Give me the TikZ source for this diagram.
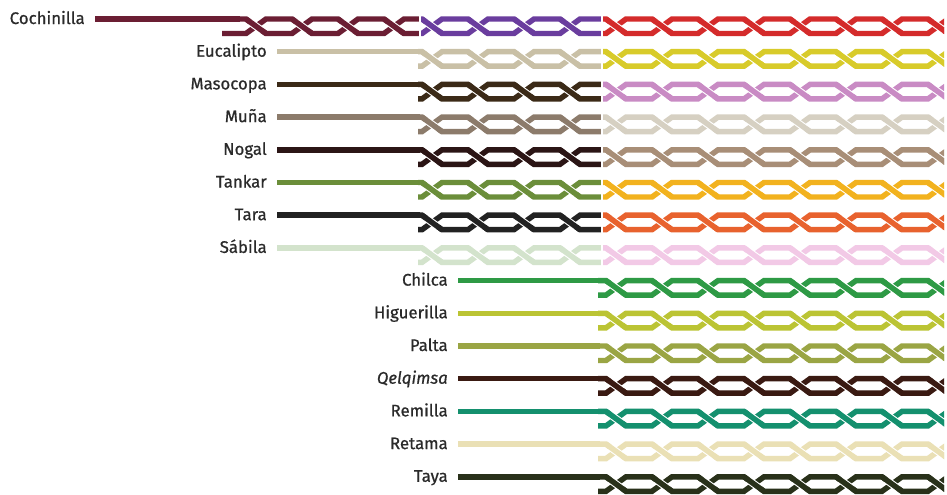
\documentclass[tikz,border=0pt]{standalone}
\usepackage{fontspec}
\setmainfont{Fira Sans}
\newfontfamily\labfont{Fira Sans}[FakeBold=0.7]
\definecolor{textgray}{HTML}{2A2A2A}
\definecolor{cMaroon}{HTML}{6B1E33}
\definecolor{cPurple}{HTML}{6A3D9E}
\definecolor{cRed}{HTML}{D42B2B}
\definecolor{cEuc}{HTML}{C9C0A6}
\definecolor{cYel}{HTML}{D8CB2A}
\definecolor{cMaso}{HTML}{3B2A17}
\definecolor{cPink}{HTML}{C98BC4}
\definecolor{cMuna}{HTML}{8C7B6B}
\definecolor{cLight}{HTML}{D6D0C2}
\definecolor{cNogal}{HTML}{2B1515}
\definecolor{cTan}{HTML}{A88E77}
\definecolor{cTankar}{HTML}{6B8E3A}
\definecolor{cAmber}{HTML}{F2B21E}
\definecolor{cTara}{HTML}{222222}
\definecolor{cOrange}{HTML}{E8622E}
\definecolor{cSabila}{HTML}{D3E3CC}
\definecolor{cLPink}{HTML}{F2C9E6}
\definecolor{cChilca}{HTML}{2E9A45}
\definecolor{cHigu}{HTML}{BBC434}
\definecolor{cPalta}{HTML}{9AA544}
\definecolor{cQelq}{HTML}{3A1A12}
\definecolor{cRemilla}{HTML}{14906E}
\definecolor{cRetama}{HTML}{EAE0B5}
\definecolor{cTaya}{HTML}{29311A}
\tikzset{x=0.75pt,y=-0.75pt,
  strand/.style={line width=4.1pt,line cap=butt,line join=miter},
  lab/.style={font=\labfont\fontsize{12.6}{15}\selectfont,text=textgray,inner sep=0pt,anchor=base east},
  gap/.style={white,line width=0.8pt}}
% #1 ytop #2 x0 #3 first crossing #4 last crossing index #5 clip left #6 clip right #7 colour
\newcommand\twist[7]{%
  \begin{scope}
    \clip ({#5},{#1-10}) rectangle ({#6},{#1+25});
    \foreach \s in {0,1}{
      \draw[strand,#7] ({#2},{#1+14.5*\s})
        \foreach \k in {0,...,#4}{
          -- ({#3+46*\k-10},{#1+14.5*mod(\k+\s,2)})
          -- ({#3+46*\k+10},{#1+14.5*mod(\k+\s+1,2)})
        } -- ({#3+46*#4+60},{#1+14.5*mod(#4+\s+1,2)});
    }
    \foreach \k in {0,...,#4}{
      \draw[white,line width=5.7pt] ({#3+46*\k-6},{#1+0.2*14.5}) -- ({#3+46*\k+6},{#1+0.8*14.5});
      \draw[strand,#7] ({#3+46*\k-10},{#1}) -- ({#3+46*\k+10},{#1+14.5});
    }
  \end{scope}}
\begin{document}
\begin{tikzpicture}
\useasboundingbox (0,0) rectangle (947,494);
\fill[white] (0,0) rectangle (947,494);
% row 1
\node[lab] (n1) at (85,24) {Cochinilla};
\coordinate (s1) at (95,19);
\coordinate (e1) at (240,19);
\draw[strand,cMaroon] (s1) -- (e1);
\twist{19}{222}{256}{3}{222}{420}{cMaroon}
\twist{19}{380}{432}{11}{420}{602}{cPurple}
\twist{19}{380}{432}{11}{602}{944}{cRed}
\draw[gap] (420,15) -- (420,37);
\draw[gap] (602,15) -- (602,37);
% rows 2-8
\foreach \i/\y/\t/\ca/\cb in {
  2/51.7/Eucalipto/cEuc/cYel,
  3/84.4/Masocopa/cMaso/cPink,
  4/117.1/Muña/cMuna/cLight,
  5/149.8/Nogal/cNogal/cTan,
  6/182.5/Tankar/cTankar/cAmber,
  7/215.2/Tara/cTara/cOrange,
  8/247.9/Sábila/cSabila/cLPink}{
  \node[lab] (n\i) at (267,{\y+5}) {\t};
  \coordinate (s\i) at (277,\y);
  \coordinate (e\i) at (420,\y);
  \draw[strand,\ca] (s\i) -- (e\i);
  \twist{\y}{418}{432}{11}{418}{602}{\ca}
  \twist{\y}{418}{432}{11}{602}{944}{\cb}
  \draw[gap] (602,{\y-4}) -- (602,{\y+18.5});
}
% rows 9-15
\foreach \i/\y/\t/\ca in {
  9/280.6/Chilca/cChilca,
  10/313.3/Higuerilla/cHigu,
  11/346/Palta/cPalta,
  12/378.7/{\textit{Qelqimsa}}/cQelq,
  13/411.4/Remilla/cRemilla,
  14/444.1/Retama/cRetama,
  15/476.8/Taya/cTaya}{
  \node[lab] (n\i) at (448,{\y+5}) {\t};
  \coordinate (s\i) at (458,\y);
  \coordinate (e\i) at (600,\y);
  \draw[strand,\ca] (s\i) -- (e\i);
  \twist{\y}{598}{616}{7}{598}{944}{\ca}
}
\end{tikzpicture}
\end{document}
